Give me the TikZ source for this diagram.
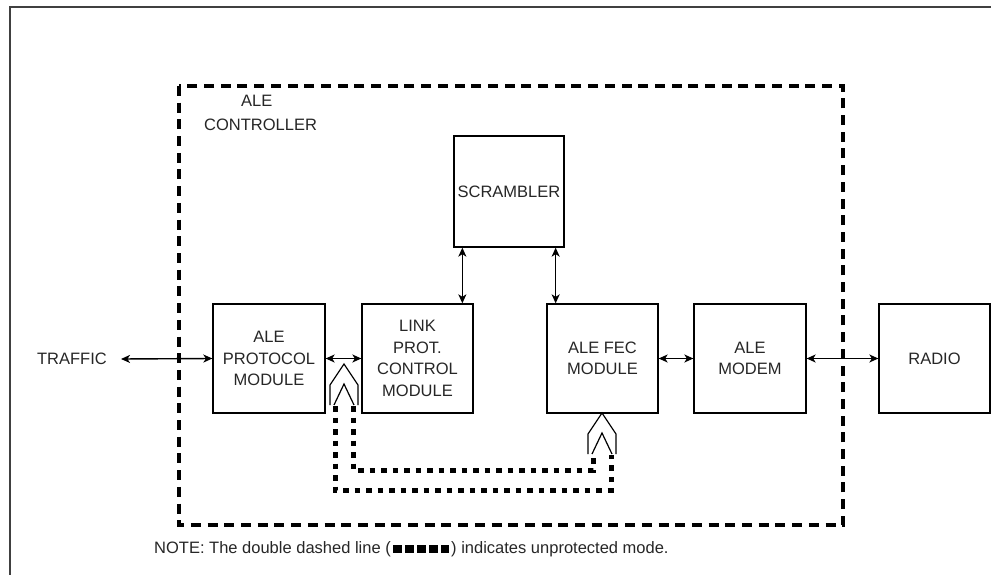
\documentclass[tikz,border=0pt]{standalone}
\usepackage{fontspec}
\setmainfont{Liberation Sans}
\usetikzlibrary{arrows.meta,calc}
\newcommand\boxfont{\fontsize{16.5}{21.5}\selectfont}
\begin{document}
\begin{tikzpicture}[x=1pt,y=-1pt,
  box/.style={draw,line width=1.3pt,minimum width=111pt,minimum height=109pt,inner sep=0pt,align=center,font=\boxfont,text=black!85},
  lbl/.style={inner sep=0pt,font=\boxfont,text=black!85},
  arr/.style={line width=1.4pt,{Stealth[length=9pt,width=8pt,inset=2.5pt]}-{Stealth[length=9pt,width=8pt,inset=2.5pt]}},
  ctrl/.style={line width=4pt,dash pattern=on 10pt off 6.7pt},
  unprot/.style={line width=5pt,dash pattern=on 5.5pt off 6pt},
  legdash/.style={line width=4pt,dash pattern=on 8.5pt off 3.5pt},
  chev/.pic={
    \draw[line width=1.2pt,line join=miter] (-14,41) -- (-14,21) -- (0,0) -- (14,21) -- (14,41);
    \draw[line width=1.2pt,line join=miter] (-10,41) -- (0,20) -- (10,41);
  }]
\useasboundingbox (0,0) rectangle (991,575);
% outer frame
\draw[line width=1.5pt,black!75] (991,7) -- (10,7) -- (10,575);
% controller box
\draw[ctrl] (179,86) rectangle (843,525);
\node[lbl,align=left,anchor=north west] (ctrltxt) at (204,95) {\hspace*{37pt}ALE\\[2pt]CONTROLLER};
% blocks
\node[box,minimum width=110pt,minimum height=111pt] (scr) at (509,191.5) {SCRAMBLER};
\node[box,minimum width=112pt] (proto) at (269,358.5) {ALE\\PROTOCOL\\MODULE};
\node[box] (link) at (417.5,358.5) {LINK\\PROT.\\CONTROL\\MODULE};
\node[box] (fec) at (602.5,358.5) {ALE FEC\\MODULE};
\node[box,minimum width=112pt] (modem) at (750,358.5) {ALE\\MODEM};
\node[box] (radio) at (934.5,358.5) {RADIO};
\node[lbl,anchor=east] (traffic) at (107,359) {TRAFFIC};
% connectors
\draw[arr] ([xshift=14pt]traffic.east) -- (proto.west);
\draw[arr] (proto.east) -- (link.west);
\draw[arr] (fec.east) -- (modem.west);
\draw[arr] (modem.east) -- (radio.west);
\draw[arr] ([xshift=9pt]scr.south west) -- ([xshift=9pt]scr.south west |- link.north);
\draw[arr] ([xshift=-9pt]scr.south east) -- ([xshift=-9pt]scr.south east |- fec.north);
% unprotected path
\coordinate (la) at (344,364);
\coordinate (ra) at (602,413);
\pic at (la) {chev};
\pic at (ra) {chev};
\draw[unprot] ($(la)+(9,42)$) |- ($(ra)+(-9,57)$) -- ($(ra)+(-9,42)$);
\draw[unprot] ($(la)+(-9,42)$) |- ($(ra)+(9,77)$) -- ($(ra)+(9,42)$);
% note
\node[lbl,anchor=west] (note1) at (154,549) {NOTE: The double dashed line (};
\coordinate (lg) at ($(note1.east)+(2,0)$);
\draw[legdash] ($(lg)+(0,-2.3)$) -- ++(56,0);
\draw[legdash] ($(lg)+(0,2.3)$) -- ++(56,0);
\node[lbl,anchor=west] (note2) at ($(lg)+(58,0)$) {) indicates unprotected mode.};
\end{tikzpicture}
\end{document}
